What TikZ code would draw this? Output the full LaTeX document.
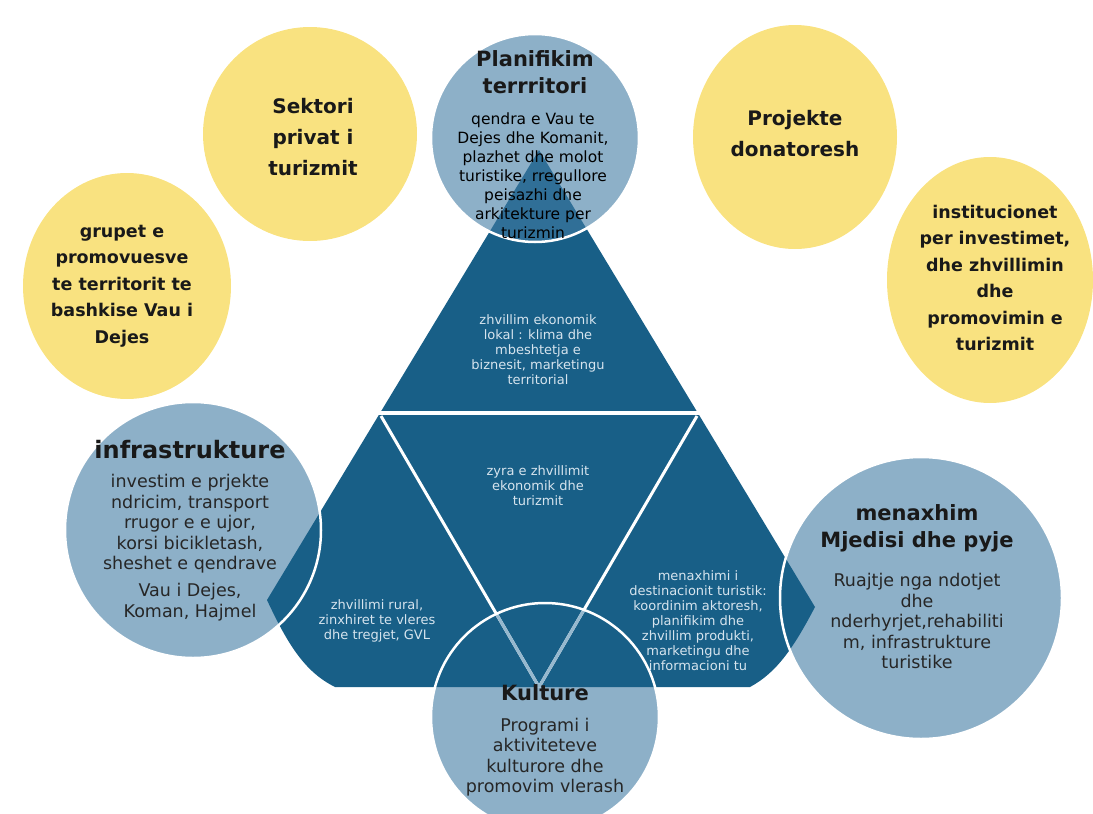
\documentclass[tikz,border=0pt]{standalone}
\usepackage{fontspec}
\setmainfont{DejaVu Sans}
\definecolor{tri}{RGB}{24,95,135}
\definecolor{ball}{RGB}{141,176,200}
\definecolor{glass}{RGB}{65,123,163}
\definecolor{sun}{RGB}{249,226,128}
\definecolor{trtxt}{RGB}{214,228,238}
\definecolor{vline}{RGB}{150,184,206}
\tikzset{
  sunball/.style={fill=sun},
  rim/.style={draw=white, line width=2.5pt},
  gap/.style={white, line width=3.5pt},
  suntxt/.style={align=center, font=\bfseries\fontsize{17.5}{26.5}\selectfont, text=black!90},
  sunbig/.style={suntxt, font=\bfseries\fontsize{20}{31}\selectfont},
  head/.style={align=center, font=\bfseries\fontsize{21}{27}\selectfont, text=black!90},
  body/.style={align=center, font=\fontsize{17.5}{20.5}\selectfont, text=black!85},
  tritxt/.style={align=center, font=\fontsize{13}{15}\selectfont, text=trtxt},
}
\begin{document}
\begin{tikzpicture}[x=1pt,y=-1pt]
  \def\rtop{104}
  \def\rleft{128}
  \def\rright{141}
  \def\rbot{114}
  \useasboundingbox (0,0) rectangle (1093,814);
  \clip (0,0) rectangle (1093,814);
  % yellow balls
  \fill[sunball] (310,134) ellipse (107pt and 107pt);
  \fill[sunball] (127,286) ellipse (104pt and 113pt);
  \fill[sunball] (795,137) ellipse (102pt and 112pt);
  \fill[sunball] (990,280) ellipse (103pt and 123pt);
  % blue balls under the triangle
  \fill[ball] (193,530) circle (\rleft pt);
  \fill[ball] (921,598) circle (\rright pt);
  \fill[ball] (545,717) circle (\rbot pt);
  % triangle
  \fill[tri] (539,150)--(815,607) .. controls (795,645) and (778,672) .. (750,687)
    --(335,687) .. controls (305,672) and (288,645) .. (267,600)--cycle;
  \draw[gap] (378,413)--(700,413);
  \draw[gap, line width=3pt] (381,416)--(539,687);
  \draw[gap, line width=3pt] (697,416)--(539,687);
  \begin{scope}
    \clip (545,717) circle (\rbot pt);
    \draw[gap, vline, line width=3pt] (381,416)--(539,687);
    \draw[gap, vline, line width=3pt] (697,416)--(539,687);
  \end{scope}
  \fill[glass, opacity=0.6] (535,138) circle (\rtop pt);
  \node[tritxt] (lokal) at (538,350) {zhvillim ekonomik\\lokal : klima dhe\\mbeshtetja e\\biznesit,  marketingu\\territorial};
  \node[tritxt] (zyra) at (538,486) {zyra e zhvillimit\\ekonomik dhe\\turizmit};
  \node[tritxt] (rural) at (377,621) {zhvillimi rural,\\zinxhiret  te vleres\\dhe tregjet,  GVL};
  \node[tritxt] (destin) at (698,621) {menaxhimi i\\destinacionit  turistik:\\koordinim aktoresh,\\planifikim dhe\\zhvillim produkti,\\marketingu  dhe\\informacioni tu};
  \draw[rim] (535,138) circle (\rtop pt);
  \draw[rim] (193,530) circle (\rleft pt);
  \draw[rim] (921,598) circle (\rright pt);
  \draw[rim] (545,717) circle (\rbot pt);
  % texts
  \node[sunbig] (sektori) at (313,137) {Sektori\\privat i\\turizmit};
  \node[suntxt] (grupet) at (122,286) {grupet e\\promovuesve\\te territorit te\\bashkise Vau i\\Dejes};
  \node[sunbig] (donator) at (795,134) {Projekte\\donatoresh};
  \node[suntxt] (instit) at (995,278) {institucionet\\per investimet,\\dhe zhvillimin\\dhe\\promovimin e\\turizmit};
  \node[head] (planhead) at (535,72) {Planifikim\\terrritori};
  \node[body, font=\fontsize{15.5}{19}\selectfont, text=black] (planbody) at (533,176) {qendra e Vau te\\Dejes dhe Komanit,\\plazhet dhe  molot\\turistike, rregullore\\peisazhi dhe\\arkitekture per\\turizmin};
  \node[head, font=\bfseries\fontsize{24}{27}\selectfont] (infrahead) at (190,450) {infrastrukture};
  \node[body] (infrabody) at (190,524) {investim e prjekte\\ndricim, transport\\rrugor e e ujor,\\korsi bicikletash,\\sheshet e qendrave};
  \node[body] (infraplace) at (190,602) {Vau i Dejes,\\Koman, Hajmel};
  \node[head] (envhead) at (917,528) {menaxhim\\Mjedisi dhe pyje};
  \node[body] (envbody) at (917,621) {Ruajtje nga ndotjet\\dhe\\nderhyrjet,rehabiliti\\m, infrastrukture\\turistike};
  \node[head] (kulthead) at (545,693) {Kulture};
  \node[body] (kultbody) at (545,757) {Programi i\\aktiviteteve\\kulturore dhe\\promovim vlerash};
\end{tikzpicture}
\end{document}
